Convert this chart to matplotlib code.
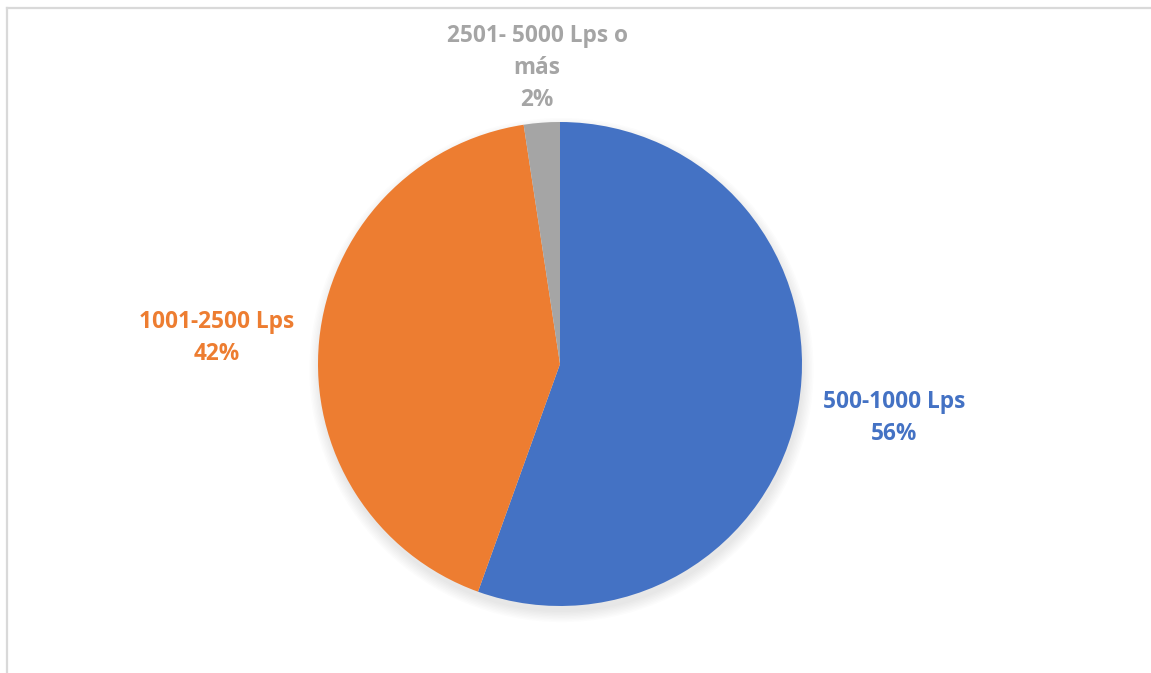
import matplotlib
matplotlib.use("Agg")
import matplotlib.pyplot as plt
from matplotlib.lines import Line2D
from matplotlib.patches import Circle

categories = ["500-1000 Lps", "1001-2500 Lps", "2501- 5000 Lps o\nmás"]
values = [55.5, 42.1, 2.4]
pct_labels = ["56%", "42%", "2%"]
colors = ["#4472C4", "#ED7D31", "#A5A5A5"]

W, H = 1151, 673
fig = plt.figure(figsize=(W / 100, H / 100), dpi=100)
fig.patch.set_facecolor("white")

# chart area border (only top and left visible)
fig.add_artist(Line2D([6.5 / W, 1.0], [1 - 7.5 / H, 1 - 7.5 / H], color="#D9D9D9", lw=1.6, transform=fig.transFigure))
fig.add_artist(Line2D([6.5 / W, 6.5 / W], [0.0, 1 - 7.5 / H], color="#D9D9D9", lw=1.6, transform=fig.transFigure))

cx, cy, r = 560, H - 364, 242
ax = fig.add_axes([(cx - r) / W, (cy - r) / H, 2 * r / W, 2 * r / H])
ax.axis("off")

# soft shadow
for i in range(8):
    rr = 1.0 + 0.006 * i
    ax.add_patch(Circle((0.006, -0.025), rr, color="black", alpha=0.012, lw=0, clip_on=False, zorder=0))

labels = [f"{c}\n{p}" for c, p in zip(categories, pct_labels)]
wedges, texts = ax.pie(values, colors=colors, startangle=90, counterclock=False,
                       labels=labels, labeldistance=1.4, radius=1.0,
                       wedgeprops=dict(linewidth=0, zorder=2),
                       textprops=dict(fontsize=16.3, fontweight="bold", family="Open Sans",
                                      ha="center", va="center", linespacing=1.45))
ax.set_xlim(-1, 1)
ax.set_ylim(-1, 1)
ax.set_aspect("equal")
label_pos = [(1.38, -0.223), (-1.417, 0.107), (-0.095, 1.223)]
for t, c, p in zip(texts, colors, label_pos):
    t.set_color(c)
    t.set_position(p)
    t.set_ha("center")
    t.set_va("center")
    t.set_clip_on(False)

fig.savefig("out.png", dpi=100, facecolor="white")
